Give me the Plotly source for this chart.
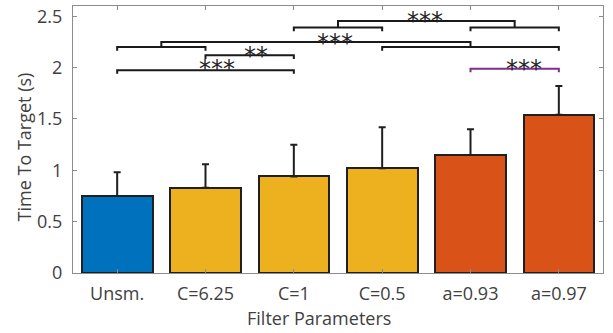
import plotly.graph_objects as go

# Mean time-to-target per filter setting, with upward standard-deviation bars
categories = ["Unsm.", "C=6.25", "C=1", "C=0.5", "a=0.93", "a=0.97"]
means = [0.75, 0.83, 0.94, 1.02, 1.15, 1.54]
sd = [0.23, 0.23, 0.31, 0.40, 0.25, 0.28]
bar_colors = ["#0072BD", "#EDB120", "#EDB120", "#EDB120", "#D95319", "#D95319"]

# Pairwise significance brackets: (left bar, right bar, height, colour)
pair_brackets = [
    (1, 3, 1.975, "#1a1a1a"),
    (2, 3, 2.12, "#1a1a1a"),
    (1, 2, 2.20, "#1a1a1a"),
    (4, 6, 2.20, "#1a1a1a"),
    (3, 4, 2.39, "#1a1a1a"),
    (5, 6, 2.39, "#1a1a1a"),
    (5, 6, 1.99, "#7E2F8E"),
]
# Group links joining two brackets: (x left, x right, bracket height, link height)
group_links = [
    (1.5, 5.0, 2.20, 2.25),
    (3.5, 5.5, 2.39, 2.455),
]
# Significance stars: (x, y, label)
star_labels = [
    (2.125, 2.04, "***"),
    (2.57, 2.16, "**"),
    (3.47, 2.29, "***"),
    (4.49, 2.50, "***"),
    (5.61, 2.04, "***"),
]

xpos = list(range(1, len(categories) + 1))
tick_drop = 0.035
font_family = "Open Sans, Noto Sans, sans-serif"
text_grey = "#404040"

fig = go.Figure()
fig.add_trace(go.Bar(
    x=xpos, y=means, width=0.8,
    marker=dict(color=bar_colors, line=dict(color="#1f1f1f", width=2)),
    error_y=dict(type="data", symmetric=False, array=sd, arrayminus=[0] * len(sd),
                 color="#1f1f1f", thickness=2, width=3.5),
    showlegend=False, hoverinfo="skip",
))

for x1, x2, y, col in pair_brackets:
    fig.add_trace(go.Scatter(
        x=[x1, x1, x2, x2], y=[y - tick_drop, y, y, y - tick_drop],
        mode="lines", line=dict(color=col, width=2),
        showlegend=False, hoverinfo="skip",
    ))

for x1, x2, yb, yl in group_links:
    fig.add_trace(go.Scatter(
        x=[x1, x1, x2, x2], y=[yb, yl, yl, yb],
        mode="lines", line=dict(color="#1a1a1a", width=2),
        showlegend=False, hoverinfo="skip",
    ))

for x, y, label in star_labels:
    fig.add_annotation(x=x, y=y, text=label, showarrow=False,
                       xanchor="center", yanchor="middle", yshift=-5,
                       font=dict(family="DejaVu Sans", size=24, color="#262626"))

# Axis titles placed as paper-anchored text
fig.add_annotation(xref="paper", yref="paper", x=0.464, y=-0.168,
                   text="Filter Parameters", showarrow=False,
                   xanchor="center", yanchor="middle",
                   font=dict(family=font_family, size=18, color=text_grey))
fig.add_annotation(xref="paper", yref="paper", x=-0.0925, y=0.474,
                   text="Time To Target (s)", showarrow=False, textangle=-90,
                   xanchor="center", yanchor="middle",
                   font=dict(family=font_family, size=18, color=text_grey))

axis_common = dict(showline=True, linecolor="#8c8c8c", linewidth=1, mirror="ticks",
                   ticks="inside", ticklen=4, tickcolor="#8c8c8c", showgrid=False,
                   zeroline=False, tickfont=dict(family=font_family, size=18, color=text_grey))

fig.update_xaxes(range=[0.5, 6.5], tickvals=xpos, ticktext=categories,
                 ticklabelstandoff=4, **axis_common)
fig.update_yaxes(range=[0, 2.6], tickvals=[0, 0.5, 1, 1.5, 2, 2.5],
                 ticktext=["0", "0.5", "1", "1.5", "2", "2.5"],
                 ticklabelstandoff=6, **axis_common)

fig.update_layout(
    width=613, height=333,
    margin=dict(l=73, r=10, t=4, b=60),
    plot_bgcolor="white", paper_bgcolor="white",
    bargap=0,
)

fig.write_html("out.html")
